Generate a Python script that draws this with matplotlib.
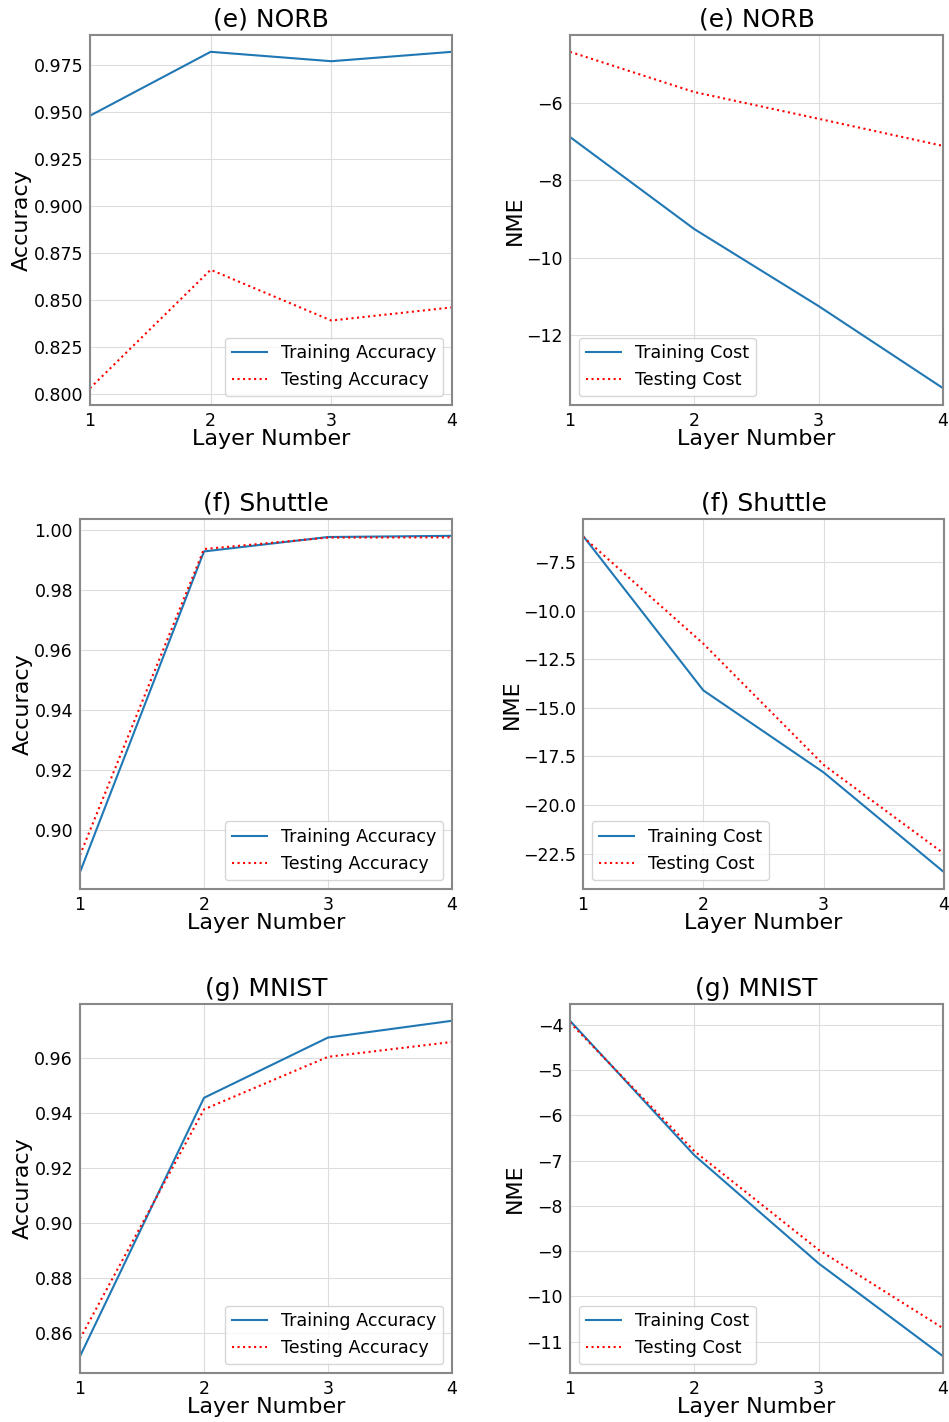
# -*- coding: utf-8 -*-
"""Accuracy / NME vs. layer number for NORB, Shuttle and MNIST (3 x 2 panels)."""
import matplotlib
matplotlib.use("Agg")
import matplotlib.pyplot as plt

LAYERS = [1, 2, 3, 4]

# (e) NORB
NORB_TRAIN_ACC = [0.948, 0.982, 0.977, 0.982]
NORB_TEST_ACC = [0.803, 0.866, 0.839, 0.846]
NORB_TRAIN_NME = [-6.88, -9.26, -11.25, -13.37]
NORB_TEST_NME = [-4.68, -5.72, -6.41, -7.11]

# (f) Shuttle
SHUTTLE_TRAIN_ACC = [0.886, 0.9928, 0.9976, 0.9980]
SHUTTLE_TEST_ACC = [0.8917, 0.9936, 0.9974, 0.9975]
SHUTTLE_TRAIN_NME = [-6.15, -14.1, -18.32, -23.45]
SHUTTLE_TEST_NME = [-6.2, -11.7, -17.93, -22.5]

# (g) MNIST
MNIST_TRAIN_ACC = [0.8516, 0.9455, 0.9674, 0.9735]
MNIST_TEST_ACC = [0.858, 0.9413, 0.9604, 0.9658]
MNIST_TRAIN_NME = [-3.91, -6.88, -9.27, -11.32]
MNIST_TEST_NME = [-3.95, -6.79, -8.97, -10.70]

TITLES = ["(e) NORB", "(f) Shuttle", "(g) MNIST"]

W, H = 949, 1422
# axes boxes in pixels: left, right, top, bottom
BOXES = [
    (90, 452, 35, 405), (570, 943, 35, 405),
    (80, 452, 519, 889), (583, 944, 519, 889),
    (80, 452, 1004, 1373), (570, 943, 1004, 1373),
]


def make_axes(fig, box):
    l, r, t, b = box
    return fig.add_axes([l / W, 1 - b / H, (r - l) / W, (b - t) / H])


def style_axes(ax, title, ylabel):
    ax.set_title(title, fontsize=18)
    ax.set_xlabel("Layer Number", fontsize=16, labelpad=-1)
    ax.set_ylabel(ylabel, fontsize=16, labelpad=1)
    ax.set_xlim(1, 4)
    ax.set_xticks(LAYERS)
    ax.tick_params(labelsize=12.5, length=0, pad=5)
    ax.grid(True, color="#dddddd", linewidth=0.8)
    for sp in ax.spines.values():
        sp.set_color("#888888")
        sp.set_linewidth(1.5)


def plot_pair(ax, train, test, labels, loc):
    ax.plot(LAYERS, train, color="#1f77b4", linewidth=1.5, label=labels[0])
    ax.plot(LAYERS, test, color="red", linestyle=":", linewidth=1.5, label=labels[1])
    ax.legend(loc=loc, fontsize=12.6, framealpha=0.8)


def main():
    fig = plt.figure(figsize=(W / 100, H / 100), dpi=100)
    acc = [(NORB_TRAIN_ACC, NORB_TEST_ACC), (SHUTTLE_TRAIN_ACC, SHUTTLE_TEST_ACC),
           (MNIST_TRAIN_ACC, MNIST_TEST_ACC)]
    nme = [(NORB_TRAIN_NME, NORB_TEST_NME), (SHUTTLE_TRAIN_NME, SHUTTLE_TEST_NME),
           (MNIST_TRAIN_NME, MNIST_TEST_NME)]
    for row in range(3):
        ax = make_axes(fig, BOXES[2 * row])
        plot_pair(ax, *acc[row], ("Training Accuracy", "Testing Accuracy"), "lower right")
        style_axes(ax, TITLES[row], "Accuracy")

        ax = make_axes(fig, BOXES[2 * row + 1])
        plot_pair(ax, *nme[row], ("Training Cost", "Testing Cost"), "lower left")
        style_axes(ax, TITLES[row], "NME")

    fig.savefig("out.png", dpi=100)
    plt.close(fig)


if __name__ == "__main__":
    main()
